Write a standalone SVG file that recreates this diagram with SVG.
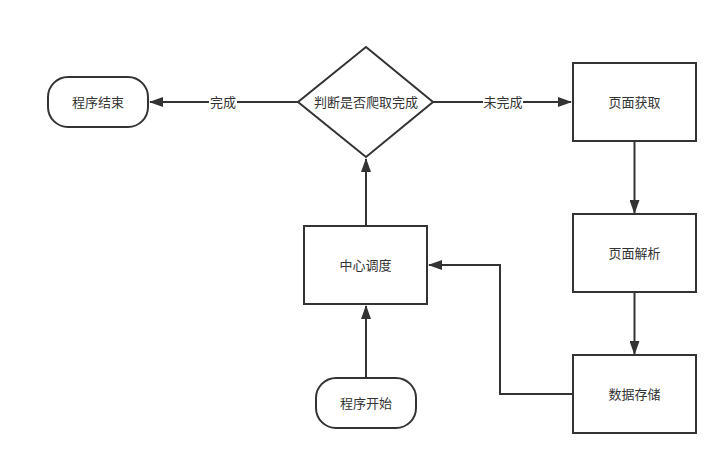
<svg xmlns="http://www.w3.org/2000/svg" width="728" height="465" viewBox="0 0 728 465">
<style>
.n{fill:#fff;stroke:#333;stroke-width:2}
.t{font-family:"Liberation Sans","Noto Sans CJK SC",sans-serif;font-size:13px;fill:#333;text-anchor:middle;dominant-baseline:central}
.c{fill:none;stroke:#333;stroke-width:2;marker-end:url(#a)}
.lb{fill:#fff}
</style>
<defs>
<marker id="a" viewBox="0 0 14 10" refX="13" refY="5" markerWidth="14" markerHeight="10" markerUnits="userSpaceOnUse" orient="auto">
<path d="M0,0 L14,5 L0,10 Z" fill="#333"/>
</marker>
</defs>
<rect width="728" height="465" fill="#fff"/>
<g id="connectors">
<path class="c" d="M298,102 L150,102"/>
<path class="c" d="M433,102 L571,102"/>
<path class="c" d="M634.5,141 L634.5,213"/>
<path class="c" d="M634.5,292 L634.5,354"/>
<path class="c" d="M573,394 L500,394 L500,265 L429,265"/>
<path class="c" d="M366,378 L366,306"/>
<path class="c" d="M366,226 L366,159"/>
<rect class="lb" x="209" y="94" width="28" height="16"/>
<text class="t" x="223" y="102">完成</text>
<rect class="lb" x="483" y="94" width="40" height="16"/>
<text class="t" x="503" y="102">未完成</text>
</g>
<g id="end">
<rect class="n" x="48" y="77" width="100" height="50" rx="20"/>
<text class="t" x="98" y="102">程序结束</text>
</g>
<g id="decision">
<path class="n" d="M366,47 L433,102 L366,157 L298,102 Z"/>
<text class="t" x="366" y="102">判断是否爬取完成</text>
</g>
<g id="fetch">
<rect class="n" x="573" y="63" width="123" height="78"/>
<text class="t" x="634.5" y="102">页面获取</text>
</g>
<g id="parse">
<rect class="n" x="573" y="214" width="123" height="78"/>
<text class="t" x="634.5" y="253">页面解析</text>
</g>
<g id="store">
<rect class="n" x="573" y="355" width="123" height="78"/>
<text class="t" x="634.5" y="394">数据存储</text>
</g>
<g id="dispatch">
<rect class="n" x="304" y="226" width="123" height="78"/>
<text class="t" x="365.5" y="265">中心调度</text>
</g>
<g id="start">
<rect class="n" x="316" y="378" width="100" height="50" rx="20"/>
<text class="t" x="366" y="403">程序开始</text>
</g>
</svg>
